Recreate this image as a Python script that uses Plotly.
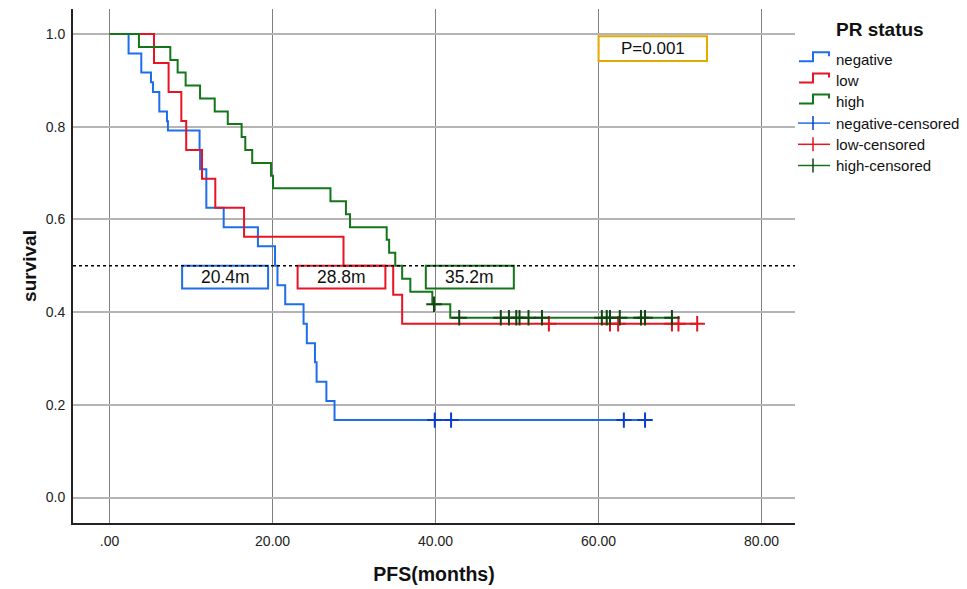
import numpy as np
import plotly.graph_objects as go

# ---------------- data ----------------
groups = ["negative", "low", "high"]

neg_time = [0, 2.33, 3.89, 5.08, 5.32, 6.1, 7.04, 7.16, 11.04, 11.1, 11.87, 14.0, 18.2,
            20.3, 20.6, 21.55, 23.8, 24.2, 25.2, 25.4, 26.6, 27.6]
neg_surv = [1.0, 0.958, 0.917, 0.896, 0.875, 0.833, 0.812, 0.792, 0.75, 0.708, 0.625, 0.583, 0.542,
            0.5, 0.458, 0.417, 0.375, 0.333, 0.292, 0.25, 0.208, 0.167]
neg_censor = [39.9, 41.9, 63.1, 65.7]

low_time = [0, 5.45, 7.24, 8.8, 9.4, 11.34, 12.97, 16.5, 28.7, 34.8, 35.9]
low_surv = [1.0, 0.9375, 0.875, 0.8125, 0.75, 0.6875, 0.625, 0.5625, 0.5, 0.4375, 0.375]
low_censor = [53.9, 61.4, 62.4, 69.0, 69.8, 72.1]

high_time = [0, 3.6, 7.45, 8.35, 9.33, 11.1, 12.9, 14.5, 16.2, 16.65, 17.5, 19.8, 20.05,
             27.1, 29.0, 29.5, 34.0, 34.3, 35.05, 35.9, 36.9, 39.6, 41.8]
high_surv = [1.0, 0.972, 0.944, 0.917, 0.889, 0.861, 0.833, 0.806, 0.778, 0.75, 0.722, 0.694, 0.667,
             0.639, 0.611, 0.583, 0.556, 0.528, 0.5, 0.472, 0.444, 0.417, 0.388]
high_censor = [39.8, 42.9, 48.0, 49.0, 49.9, 50.3, 51.4, 53.05, 60.4, 61.0, 61.4, 62.6, 65.2, 65.7, 69.0]

median_labels = ["20.4m", "28.8m", "35.2m"]
p_label = "P=0.001"
median_level = 0.5

x_tickvals = [0, 20, 40, 60, 80]
x_ticktext = [".00", "20.00", "40.00", "60.00", "80.00"]
y_tickvals = [0.0, 0.2, 0.4, 0.6, 0.8, 1.0]
y_ticktext = ["0.0", "0.2", "0.4", "0.6", "0.8", "1.0"]

# ---------------- styles ----------------
line_colors = {"negative": "rgb(30,110,235)", "low": "rgb(232,20,35)", "high": "rgb(20,118,25)"}
censor_colors = {"negative": "rgb(10,60,210)", "low": "rgb(225,20,35)", "high": "rgb(15,70,15)"}
FONT = "Liberation Sans, Arial, sans-serif"

# median box extents (data units) and p-box
box_x = [(8.9, 19.45), (23.07, 33.84), (38.8, 49.6)]
box_bottom = 0.451
p_box = (60.0, 73.3, 0.942, 0.995)

# page has an 8px body margin: figure is placed at (8, 8)
OFF = 8
W, H = 967 - OFF, 589 - OFF
# plot area in page pixels
L, R, T, B = 73, 795, 9, 523

def step_value(times, surv, t):
    i = np.searchsorted(np.asarray(times), t, side="right") - 1
    return surv[i]

series = {
    "negative": (neg_time, neg_surv, neg_censor),
    "low": (low_time, low_surv, low_censor),
    "high": (high_time, high_surv, high_censor),
}

fig = go.Figure()
for g in groups:
    tt, ss, cc = series[g]
    end = max(cc) if cc else tt[-1]
    fig.add_trace(go.Scatter(
        x=list(tt) + [end], y=list(ss) + [ss[-1]], mode="lines",
        line=dict(shape="hv", color=line_colors[g], width=2),
        name=g, showlegend=False, hoverinfo="skip"))
for g in groups:
    tt, ss, cc = series[g]
    fig.add_trace(go.Scatter(
        x=cc, y=[step_value(tt, ss, c) for c in cc], mode="markers",
        marker=dict(symbol="cross-thin", size=11,
                    line=dict(color=censor_colors[g], width=2)),
        name=g + "-censored", showlegend=False, hoverinfo="skip"))

shapes = []
annotations = []

# median boxes
for g, (x0, x1), lab in zip(groups, box_x, median_labels):
    shapes.append(dict(type="rect", xref="x", yref="y", x0=x0, x1=x1,
                       y0=box_bottom, y1=median_level,
                       line=dict(color=line_colors[g], width=2), fillcolor="rgba(0,0,0,0)",
                       layer="above"))
    annotations.append(dict(x=(x0 + x1) / 2, y=(box_bottom + median_level) / 2, xref="x", yref="y",
                            text=lab, showarrow=False,
                            font=dict(family=FONT, size=17.5, color="#111")))

# dashed median line
shapes.append(dict(type="line", xref="paper", yref="y", x0=0, x1=1,
                   y0=median_level, y1=median_level,
                   line=dict(color="black", width=1.5, dash="3px,3px"), layer="above"))

# p-value box
shapes.append(dict(type="rect", xref="x", yref="y", x0=p_box[0], x1=p_box[1],
                   y0=p_box[2], y1=p_box[3],
                   line=dict(color="rgb(228,170,0)", width=2), fillcolor="rgba(0,0,0,0)"))
annotations.append(dict(x=(p_box[0] + p_box[1]) / 2, y=(p_box[2] + p_box[3]) / 2,
                        xref="x", yref="y", text=p_label, showarrow=False,
                        font=dict(family=FONT, size=17, color="#111")))

# manual legend (positions given in page pixels)
def px(x):
    return (x - L) / (R - L)

def py(y):
    return (B - y) / (B - T)

annotations.append(dict(x=px(834), y=py(30), xref="paper", yref="paper", xanchor="left",
                        yanchor="middle", text="<b>PR status</b>", showarrow=False,
                        font=dict(family=FONT, size=19, color="#111")))
legend_names = groups + [g + "-censored" for g in groups]
for k, name in enumerate(legend_names):
    yc = 59.5 + k * 21.2
    if k < 3:
        g = groups[k]
        pts = [(799, yc + 1.7), (813, yc + 1.7), (813, yc - 7.3), (829, yc - 7.3), (829, yc - 3.3)]
        path = "M " + " L ".join(f"{px(a):.5f},{py(b):.5f}" for a, b in pts)
        shapes.append(dict(type="path", xref="paper", yref="paper", path=path,
                           line=dict(color=line_colors[g], width=2)))
    else:
        g = groups[k - 3]
        shapes.append(dict(type="line", xref="paper", yref="paper", x0=px(798), x1=px(830),
                           y0=py(yc), y1=py(yc), line=dict(color=line_colors[g], width=1.5)))
        shapes.append(dict(type="line", xref="paper", yref="paper", x0=px(813), x1=px(813),
                           y0=py(yc - 7), y1=py(yc + 7), line=dict(color=censor_colors[g], width=1.5)))
    annotations.append(dict(x=px(834), y=py(yc), xref="paper", yref="paper", xanchor="left",
                            yanchor="middle", text=name, showarrow=False,
                            font=dict(family=FONT, size=15, color="#111")))

fig.update_layout(
    width=W, height=H,
    margin=dict(l=L - OFF, r=W - (R - OFF), t=T - OFF, b=H - (B - OFF), autoexpand=False),
    paper_bgcolor="white", plot_bgcolor="white",
    shapes=shapes, annotations=annotations,
    showlegend=False,
    xaxis=dict(range=[-4.49, 84.1], tickvals=x_tickvals, ticktext=x_ticktext,
               showgrid=True, gridcolor="#808080", gridwidth=1,
               showline=True, linecolor="#222", linewidth=2, zeroline=False,
               ticks="", ticklabelstandoff=4, automargin=False,
               tickfont=dict(family=FONT, size=14, color="#222"),
               title=dict(text="<b>PFS(months)</b>", font=dict(family=FONT, size=19.5, color="#111"),
                          standoff=20)),
    yaxis=dict(range=[-0.055, 1.054], tickvals=y_tickvals, ticktext=y_ticktext,
               showgrid=True, gridcolor="#b4b4b4", gridwidth=2,
               showline=True, linecolor="#222", linewidth=2, zeroline=False,
               ticks="", ticklabelstandoff=3, automargin=False,
               tickfont=dict(family=FONT, size=14, color="#222"),
               title=dict(text="<b>survival</b>", font=dict(family=FONT, size=19, color="#111"),
                          standoff=4)),
)

fig.write_html("out.html")
